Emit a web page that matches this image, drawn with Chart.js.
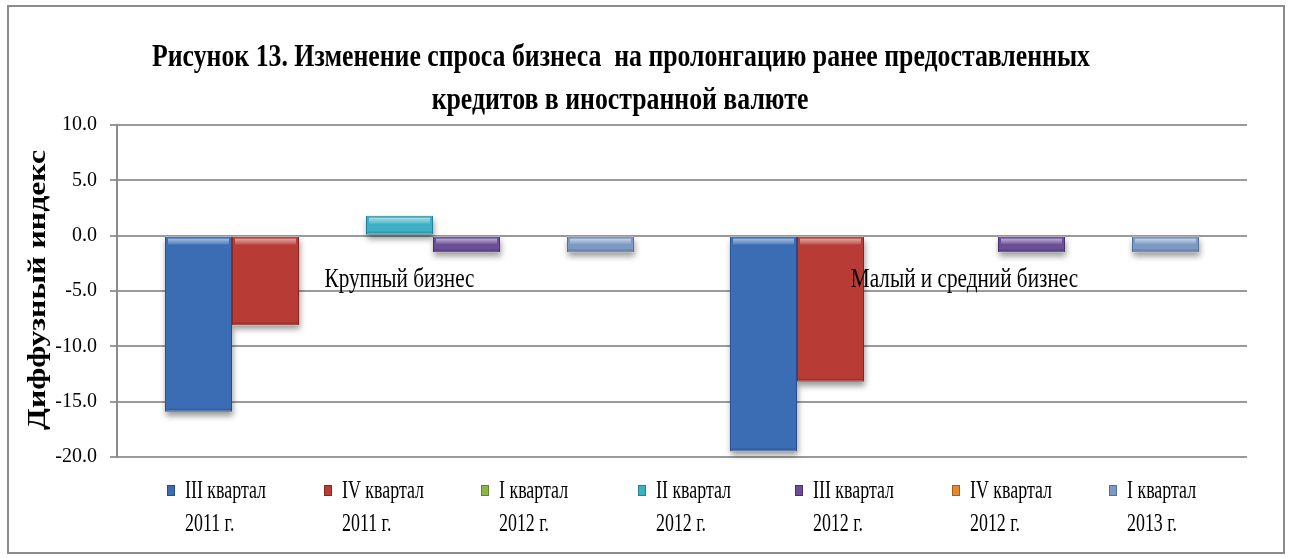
<!DOCTYPE html>
<html>
<head>
<meta charset="utf-8">
<script src="https://cdn.jsdelivr.net/npm/chart.js@4"></script>
<style>
  html, body { margin: 0; padding: 0; background: #fff; }
  #wrap { width: 1292px; height: 558px; }
</style>
</head>
<body>
<div id="wrap"><canvas id="chart" width="1292" height="558"></canvas></div>
<script>
// категории и серии
const categories = ['Крупный бизнес', 'Малый и средний бизнес'];
const seriesNames = [
  ['III квартал', '2011 г.'],
  ['IV квартал', '2011 г.'],
  ['I квартал', '2012 г.'],
  ['II квартал', '2012 г.'],
  ['III квартал', '2012 г.'],
  ['IV квартал', '2012 г.'],
  ['I квартал', '2013 г.']
];
const q3_2011 = [-15.9, -19.5];
const q4_2011 = [-8.1, -13.2];
const q1_2012 = [0, 0];
const q2_2012 = [1.8, 0];
const q3_2012 = [-1.5, -1.5];
const q4_2012 = [0, 0];
const q1_2013 = [-1.5, -1.5];
const yTicks = [10, 5, 0, -5, -10, -15, -20];

const titleLines = ['Рисунок 13. Изменение спроса бизнеса  на пролонгацию ранее предоставленных',
                    'кредитов в иностранной валюте'];
const yTitle = 'Диффузный индекс';

const colors = ['#3A6DB3', '#B83B35', '#8DB548', '#3CB1C6', '#6A4E98', '#E3882F', '#7C99C4'];
const borders = ['#244E8A', '#8A2520', '#62852C', '#237F92', '#47306E', '#A85E18', '#55709A'];

const allValues = [q3_2011, q4_2011, q1_2012, q2_2012, q3_2012, q4_2012, q1_2013];

const datasets = allValues.map((vals, i) => ({
  label: seriesNames[i].join(' '),
  data: vals,
  backgroundColor: colors[i],
  borderColor: borders[i],
  borderWidth: 1,
  borderSkipped: false,
  categoryPercentage: 0.83,
  barPercentage: 1
}));

function condText(ctx, text, x, y, font, sx, align) {
  ctx.save();
  ctx.font = font;
  ctx.translate(x, y);
  ctx.scale(sx, 1);
  ctx.textAlign = align || 'center';
  ctx.textBaseline = 'middle';
  ctx.fillStyle = '#000';
  ctx.fillText(text, 0, 0);
  ctx.restore();
}

function eachBar(chart, fn) {
  chart.data.datasets.forEach((ds, di) => {
    chart.getDatasetMeta(di).data.forEach((el, i) => {
      const p = el.getProps(['x', 'y', 'base', 'width']);
      if (Math.abs(p.base - p.y) < 0.5) return;
      fn(p, di, i);
    });
  });
}

const decor = {
  id: 'decor',
  beforeDraw(chart) {
    const ctx = chart.ctx;
    ctx.save();
    ctx.fillStyle = '#fff';
    ctx.fillRect(0, 0, chart.width, chart.height);
    ctx.strokeStyle = '#8c8c8c';
    ctx.lineWidth = 2;
    ctx.strokeRect(8, 6, 1276, 547);
    ctx.restore();
  },
  beforeDatasetsDraw(chart) {
    // тени столбцов
    const ctx = chart.ctx;
    ctx.save();
    ctx.shadowColor = 'rgba(0,0,0,0.4)';
    ctx.shadowBlur = 6;
    ctx.shadowOffsetX = 1;
    ctx.shadowOffsetY = 4;
    ctx.fillStyle = '#fff';
    eachBar(chart, p => {
      const top = Math.min(p.y, p.base), h = Math.abs(p.base - p.y);
      ctx.fillRect(p.x - p.width / 2, top, p.width, h);
    });
    ctx.restore();
  },
  afterDatasetsDraw(chart) {
    // светлая фаска у нулевой линии
    const ctx = chart.ctx;
    ctx.save();
    eachBar(chart, p => {
      const h = Math.abs(p.base - p.y);
      const band = Math.min(6, h / 3);
      const dir = p.y > p.base ? 1 : -1;
      const y0 = dir > 0 ? p.base + 2 : p.y + 2;
      const g = ctx.createLinearGradient(0, y0, 0, y0 + band);
      g.addColorStop(0, 'rgba(255,255,255,0.55)');
      g.addColorStop(1, 'rgba(255,255,255,0.1)');
      ctx.fillStyle = g;
      ctx.fillRect(p.x - p.width / 2 + 3, y0, p.width - 6, band);
      ctx.fillStyle = 'rgba(0,0,0,0.12)';
      const bot = Math.max(p.y, p.base);
      ctx.fillRect(p.x - p.width / 2 + 1, bot - 3, p.width - 2, 2);
    });
    ctx.restore();
  },
  afterDraw(chart) {
    const ctx = chart.ctx;
    const xs = chart.scales.x, ys = chart.scales.y;

    // заголовок
    const tFont = 'bold 32px "Liberation Serif"';
    ctx.font = tFont;
    const sx = 938 / ctx.measureText(titleLines[0]).width;
    condText(ctx, titleLines[0], 621, 58, tFont, sx);
    condText(ctx, titleLines[1], 620, 101, tFont, sx);

    // подпись оси Y
    ctx.save();
    ctx.translate(38, 290);
    ctx.rotate(-Math.PI / 2);
    const yFont = 'bold 26px "Liberation Serif"';
    ctx.font = yFont;
    const ysx = 280 / ctx.measureText(yTitle).width;
    condText(ctx, yTitle, 0, 0, yFont, ysx);
    ctx.restore();

    // подписи категорий у нулевой линии
    const cFont = '27px "Liberation Serif"';
    ctx.font = cFont;
    const csx = 150 / ctx.measureText(categories[0]).width;
    const zeroY = ys.getPixelForValue(0);
    categories.forEach((c, i) => {
      condText(ctx, c, xs.getPixelForValue(i), zeroY + 44, cFont, csx);
    });

    // легенда
    const lFont = '25px "Liberation Serif"';
    ctx.font = lFont;
    const lsx = 81 / ctx.measureText(seriesNames[0][0]).width;
    seriesNames.forEach((name, i) => {
      const x0 = 167 + i * 157;
      ctx.save();
      ctx.fillStyle = colors[i];
      ctx.strokeStyle = borders[i];
      ctx.lineWidth = 1;
      ctx.fillRect(x0, 485, 8, 11);
      ctx.strokeRect(x0 + 0.5, 485.5, 7, 10);
      ctx.restore();
      condText(ctx, name[0], x0 + 18, 491, lFont, lsx, 'left');
      condText(ctx, name[1], x0 + 18, 524, lFont, lsx, 'left');
    });
  }
};

new Chart(document.getElementById('chart'), {
  type: 'bar',
  data: { labels: categories, datasets: datasets },
  options: {
    responsive: false,
    animation: false,
    layout: { padding: { left: 0, right: 45, top: 125, bottom: 101 } },
    plugins: {
      legend: { display: false },
      title: { display: false },
      tooltip: { enabled: false }
    },
    scales: {
      x: {
        display: false
      },
      y: {
        min: -20,
        max: 10,
        afterFit(scale) { scale.width = 117; },
        afterBuildTicks(scale) { scale.ticks = yTicks.map(v => ({ value: v })); },
        border: { display: true, color: '#8c8c8c', width: 2 },
        grid: { color: '#9a9a9a', lineWidth: 2, drawTicks: true, tickLength: 7 },
        ticks: {
          padding: 13,
          color: '#000',
          font: { family: '"Liberation Serif"', size: 20 },
          callback: v => Number(v).toFixed(1)
        }
      }
    }
  },
  plugins: [decor]
});
</script>
</body>
</html>
